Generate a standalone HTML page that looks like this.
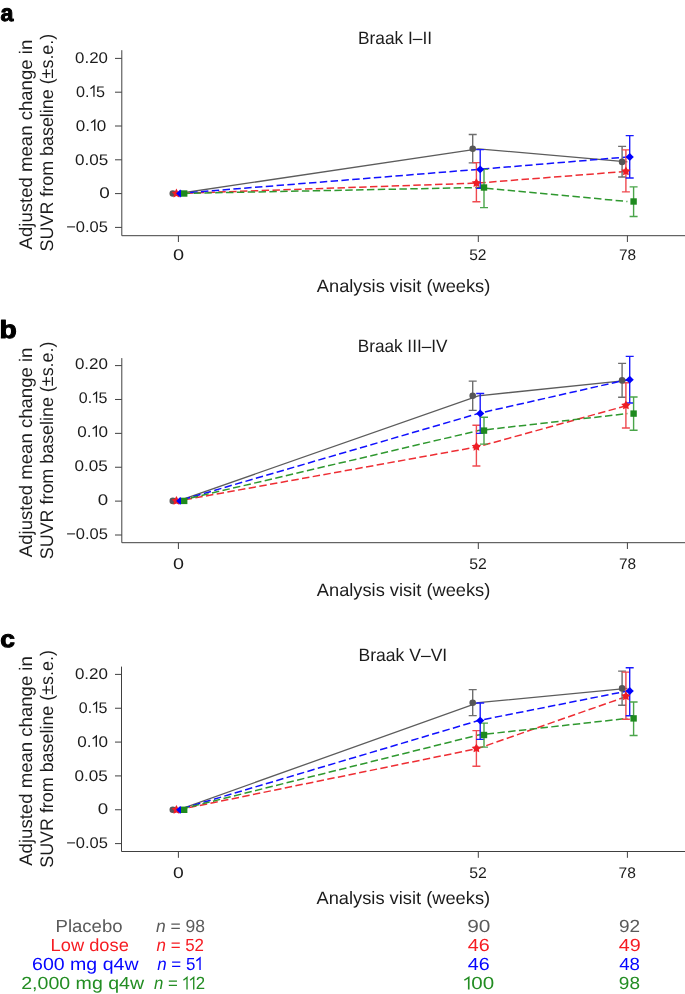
<!DOCTYPE html>
<html><head><meta charset="utf-8"><title>Adjusted mean change in SUVR by Braak region</title>
<style>
html,body{margin:0;padding:0;background:#fff;overflow:hidden;}
svg{display:block;will-change:transform;}
text{font-family:"Liberation Sans", sans-serif;text-rendering:geometricPrecision;}
</style></head><body>
<svg width="685" height="994" viewBox="0 0 685 994">
<rect width="685" height="994" fill="#fff"/>
<text x="0.5" y="20.9" font-size="23.6" font-weight="bold" fill="#000" textLength="12.91" lengthAdjust="spacingAndGlyphs" stroke="#000" stroke-width="1" stroke-linejoin="round">a</text>
<text x="358.01" y="44.3" font-size="17.9" fill="#1c1c1c" textLength="74.14" lengthAdjust="spacingAndGlyphs">Braak I–II</text>
<text transform="translate(31.7,249.3) rotate(-90)" x="-0.09" y="0" font-size="18.2" fill="#1c1c1c" textLength="209.61" lengthAdjust="spacingAndGlyphs">Adjusted mean change in</text>
<text transform="translate(53.3,250.6) rotate(-90)" x="-0.81" y="0" font-size="18.2" fill="#1c1c1c" textLength="217.64" lengthAdjust="spacingAndGlyphs">SUVR from baseline (±s.e.)</text>
<path d="M121.8,50.2 V235.7 H685 M115,58.4 H121.8 M115,92.2 H121.8 M115,126 H121.8 M115,159.8 H121.8 M115,193.6 H121.8 M115,227.4 H121.8 M178.4,235.7 V242 M478.3,235.7 V242 M627.4,235.7 V242" fill="none" stroke="#404040" stroke-width="1.0"/>
<text x="75.12" y="62.85" font-size="15.4" fill="#1c1c1c" textLength="32.87" lengthAdjust="spacingAndGlyphs">0.20</text>
<g transform="matrix(1.0524 0 0 1 75.97 0)" fill="#1c1c1c"><text x="0" y="96.65" font-size="15.4"><tspan x="0.00">0</tspan><tspan x="8.56">.</tspan><tspan x="19.00">5</tspan></text><path d="M13.77,88.64 L17.08,86.10 V96.65" fill="none" stroke="#1c1c1c" stroke-width="1.23" stroke-linejoin="miter"/></g>
<g transform="matrix(1.1075 0 0 1 75.83 0)" fill="#1c1c1c"><text x="0" y="130.65" font-size="15.4"><tspan x="0.00">0</tspan><tspan x="8.56">.</tspan><tspan x="19.00">0</tspan></text><path d="M13.77,122.64 L17.08,120.10 V130.65" fill="none" stroke="#1c1c1c" stroke-width="1.23" stroke-linejoin="miter"/></g>
<text x="75.12" y="164.55" font-size="15.4" fill="#1c1c1c" textLength="33.29" lengthAdjust="spacingAndGlyphs">0.05</text>
<text x="99.24" y="198.15" font-size="15.4" fill="#1c1c1c" textLength="10.54" lengthAdjust="spacingAndGlyphs">0</text>
<text x="66.17" y="232.25" font-size="15.4" fill="#1c1c1c" textLength="41.79" lengthAdjust="spacingAndGlyphs">−0.05</text>
<text x="172.9" y="259.7" font-size="15.4" fill="#1c1c1c" textLength="11.12" lengthAdjust="spacingAndGlyphs">0</text>
<text x="469.18" y="259.7" font-size="15.4" fill="#1c1c1c" textLength="17.34" lengthAdjust="spacingAndGlyphs">52</text>
<text x="618.93" y="259.7" font-size="15.4" fill="#1c1c1c" textLength="17.12" lengthAdjust="spacingAndGlyphs">78</text>
<text x="316.81" y="291.5" font-size="17.9" fill="#1c1c1c" textLength="173.52" lengthAdjust="spacingAndGlyphs">Analysis visit (weeks)</text>
<polyline points="178.4,193.5 478.3,148.8 627.4,161.9" fill="none" stroke="#5c5c5c" stroke-width="1.3"/>
<polyline points="178.4,193.5 478.3,183 627.4,171.3" fill="none" stroke="#ee2d33" stroke-width="1.5" stroke-dasharray="7.45 3.39" stroke-dashoffset="3.42"/>
<polyline points="178.4,193.5 478.3,169.4 627.4,157" fill="none" stroke="#1010ff" stroke-width="1.5" stroke-dasharray="7.45 3.39" stroke-dashoffset="9.89"/>
<polyline points="178.4,193.5 478.3,187.5 627.4,201.5" fill="none" stroke="#2f982f" stroke-width="1.5" stroke-dasharray="7.45 3.39" stroke-dashoffset="6.57"/>
<path d="M472.7,134.5 V162.9 M468.7,134.5 H476.7 M468.7,162.9 H476.7" fill="none" stroke="#6e6e6e" stroke-width="1.4"/>
<path d="M622.1,146.4 V177 M618.1,146.4 H626.1 M618.1,177 H626.1" fill="none" stroke="#6e6e6e" stroke-width="1.4"/>
<path d="M476.4,162.6 V201.8 M472.4,162.6 H480.4 M472.4,201.8 H480.4" fill="none" stroke="#ef4a50" stroke-width="1.4"/>
<path d="M625.9,149.9 V191.9 M621.9,149.9 H629.9 M621.9,191.9 H629.9" fill="none" stroke="#ef4a50" stroke-width="1.4"/>
<path d="M480.2,149.6 V188.4 M476.2,149.6 H484.2 M476.2,188.4 H484.2" fill="none" stroke="#1a1aff" stroke-width="1.4"/>
<path d="M629.7,135.6 V178 M625.7,135.6 H633.7 M625.7,178 H633.7" fill="none" stroke="#1a1aff" stroke-width="1.4"/>
<path d="M484,169.4 V207.6 M480,169.4 H488 M480,207.6 H488" fill="none" stroke="#4aa54a" stroke-width="1.4"/>
<path d="M633.6,186.9 V216.5 M629.6,186.9 H637.6 M629.6,216.5 H637.6" fill="none" stroke="#4aa54a" stroke-width="1.4"/>
<circle cx="172.8" cy="193.5" r="3.3" fill="#575757"/>
<circle cx="472.7" cy="148.8" r="3.3" fill="#575757"/>
<circle cx="622.1" cy="161.9" r="3.3" fill="#575757"/>
<path d="M176.4,188.6 L177.93,191.4 L181.06,191.99 L178.87,194.3 L179.28,197.46 L176.4,196.1 L173.52,197.46 L173.93,194.3 L171.74,191.99 L174.87,191.4 Z" fill="#ee1d25"/>
<path d="M476.4,178.1 L477.93,180.9 L481.06,181.49 L478.87,183.8 L479.28,186.96 L476.4,185.6 L473.52,186.96 L473.93,183.8 L471.74,181.49 L474.87,180.9 Z" fill="#ee1d25"/>
<path d="M625.9,166.4 L627.43,169.2 L630.56,169.79 L628.37,172.1 L628.78,175.26 L625.9,173.9 L623.02,175.26 L623.43,172.1 L621.24,169.79 L624.37,169.2 Z" fill="#ee1d25"/>
<path d="M180.2,189.6 L184.3,193.5 L180.2,197.4 L176.1,193.5 Z" fill="#0000ff"/>
<path d="M480.2,165.5 L484.3,169.4 L480.2,173.3 L476.1,169.4 Z" fill="#0000ff"/>
<path d="M629.7,153.1 L633.8,157 L629.7,160.9 L625.6,157 Z" fill="#0000ff"/>
<rect x="181" y="190.3" width="6.4" height="6.4" fill="#1e8a1e"/>
<rect x="480.8" y="184.3" width="6.4" height="6.4" fill="#1e8a1e"/>
<rect x="630.4" y="198.3" width="6.4" height="6.4" fill="#1e8a1e"/>
<text x="-0.44" y="338.1" font-size="25.0" font-weight="bold" fill="#000" textLength="17.3" lengthAdjust="spacingAndGlyphs" stroke="#000" stroke-width="1" stroke-linejoin="round">b</text>
<text x="357.73" y="352" font-size="17.9" fill="#1c1c1c" textLength="89.75" lengthAdjust="spacingAndGlyphs">Braak III–IV</text>
<text transform="translate(31.7,557.1) rotate(-90)" x="-0.09" y="0" font-size="18.2" fill="#1c1c1c" textLength="209.61" lengthAdjust="spacingAndGlyphs">Adjusted mean change in</text>
<text transform="translate(53.3,558.4) rotate(-90)" x="-0.81" y="0" font-size="18.2" fill="#1c1c1c" textLength="217.64" lengthAdjust="spacingAndGlyphs">SUVR from baseline (±s.e.)</text>
<path d="M121.8,358.1 V542.7 H685 M115,365.6 H121.8 M115,399.48 H121.8 M115,433.36 H121.8 M115,467.24 H121.8 M115,501.12 H121.8 M115,535 H121.8 M178.4,542.7 V549 M478.3,542.7 V549 M627.4,542.7 V549" fill="none" stroke="#404040" stroke-width="1.0"/>
<text x="74.92" y="368.85" font-size="15.4" fill="#1c1c1c" textLength="33.08" lengthAdjust="spacingAndGlyphs">0.20</text>
<g transform="matrix(1.0410 0 0 1 78.77 0)" fill="#1c1c1c"><text x="0" y="402.75" font-size="15.4"><tspan x="0.00">0</tspan><tspan x="8.56">.</tspan><tspan x="19.00">5</tspan></text><path d="M13.77,394.74 L17.08,392.20 V402.75" fill="none" stroke="#1c1c1c" stroke-width="1.23" stroke-linejoin="miter"/></g>
<g transform="matrix(1.1113 0 0 1 77.33 0)" fill="#1c1c1c"><text x="0" y="436.85" font-size="15.4"><tspan x="0.00">0</tspan><tspan x="8.56">.</tspan><tspan x="19.00">0</tspan></text><path d="M13.77,428.84 L17.08,426.30 V436.85" fill="none" stroke="#1c1c1c" stroke-width="1.23" stroke-linejoin="miter"/></g>
<text x="74.41" y="470.75" font-size="15.4" fill="#1c1c1c" textLength="33.4" lengthAdjust="spacingAndGlyphs">0.05</text>
<text x="97.65" y="504.75" font-size="15.4" fill="#1c1c1c" textLength="10.42" lengthAdjust="spacingAndGlyphs">0</text>
<text x="66.17" y="538.65" font-size="15.4" fill="#1c1c1c" textLength="41.79" lengthAdjust="spacingAndGlyphs">−0.05</text>
<text x="172.91" y="569" font-size="15.4" fill="#1c1c1c" textLength="11.01" lengthAdjust="spacingAndGlyphs">0</text>
<text x="469.27" y="569" font-size="15.4" fill="#1c1c1c" textLength="17.56" lengthAdjust="spacingAndGlyphs">52</text>
<text x="618.93" y="569" font-size="15.4" fill="#1c1c1c" textLength="17.12" lengthAdjust="spacingAndGlyphs">78</text>
<text x="316.81" y="596" font-size="17.9" fill="#1c1c1c" textLength="173.52" lengthAdjust="spacingAndGlyphs">Analysis visit (weeks)</text>
<polyline points="178.4,500.9 478.3,395.8 627.4,380.4" fill="none" stroke="#5c5c5c" stroke-width="1.3"/>
<polyline points="178.4,500.9 478.3,446.7 627.4,405.4" fill="none" stroke="#ee2d33" stroke-width="1.5" stroke-dasharray="7.45 3.39" stroke-dashoffset="4.46"/>
<polyline points="178.4,500.9 478.3,413.5 627.4,379.7" fill="none" stroke="#1010ff" stroke-width="1.5" stroke-dasharray="7.45 3.39" stroke-dashoffset="6.04"/>
<polyline points="178.4,500.9 478.3,430.6 627.4,413.6" fill="none" stroke="#2f982f" stroke-width="1.5" stroke-dasharray="7.45 3.39" stroke-dashoffset="8.91"/>
<path d="M472.7,381.1 V410.4 M468.7,381.1 H476.7 M468.7,410.4 H476.7" fill="none" stroke="#6e6e6e" stroke-width="1.4"/>
<path d="M622.1,363.4 V397.3 M618.1,363.4 H626.1 M618.1,397.3 H626.1" fill="none" stroke="#6e6e6e" stroke-width="1.4"/>
<path d="M476.4,425.3 V466 M472.4,425.3 H480.4 M472.4,466 H480.4" fill="none" stroke="#ef4a50" stroke-width="1.4"/>
<path d="M625.9,382.8 V428 M621.9,382.8 H629.9 M621.9,428 H629.9" fill="none" stroke="#ef4a50" stroke-width="1.4"/>
<path d="M480.2,393.5 V433.4 M476.2,393.5 H484.2 M476.2,433.4 H484.2" fill="none" stroke="#1a1aff" stroke-width="1.4"/>
<path d="M629.7,356.4 V403 M625.7,356.4 H633.7 M625.7,403 H633.7" fill="none" stroke="#1a1aff" stroke-width="1.4"/>
<path d="M484,417.3 V444.1 M480,417.3 H488 M480,444.1 H488" fill="none" stroke="#4aa54a" stroke-width="1.4"/>
<path d="M633.6,397 V430.2 M629.6,397 H637.6 M629.6,430.2 H637.6" fill="none" stroke="#4aa54a" stroke-width="1.4"/>
<circle cx="172.8" cy="500.9" r="3.3" fill="#575757"/>
<circle cx="472.7" cy="395.8" r="3.3" fill="#575757"/>
<circle cx="622.1" cy="380.4" r="3.3" fill="#575757"/>
<path d="M176.4,496 L177.93,498.8 L181.06,499.39 L178.87,501.7 L179.28,504.86 L176.4,503.5 L173.52,504.86 L173.93,501.7 L171.74,499.39 L174.87,498.8 Z" fill="#ee1d25"/>
<path d="M476.4,441.8 L477.93,444.6 L481.06,445.19 L478.87,447.5 L479.28,450.66 L476.4,449.3 L473.52,450.66 L473.93,447.5 L471.74,445.19 L474.87,444.6 Z" fill="#ee1d25"/>
<path d="M625.9,400.5 L627.43,403.3 L630.56,403.89 L628.37,406.2 L628.78,409.36 L625.9,408 L623.02,409.36 L623.43,406.2 L621.24,403.89 L624.37,403.3 Z" fill="#ee1d25"/>
<path d="M180.2,497 L184.3,500.9 L180.2,504.8 L176.1,500.9 Z" fill="#0000ff"/>
<path d="M480.2,409.6 L484.3,413.5 L480.2,417.4 L476.1,413.5 Z" fill="#0000ff"/>
<path d="M629.7,375.8 L633.8,379.7 L629.7,383.6 L625.6,379.7 Z" fill="#0000ff"/>
<rect x="181" y="497.7" width="6.4" height="6.4" fill="#1e8a1e"/>
<rect x="480.8" y="427.4" width="6.4" height="6.4" fill="#1e8a1e"/>
<rect x="630.4" y="410.4" width="6.4" height="6.4" fill="#1e8a1e"/>
<text x="0.34" y="646.5" font-size="23.6" font-weight="bold" fill="#000" textLength="14.68" lengthAdjust="spacingAndGlyphs" stroke="#000" stroke-width="1" stroke-linejoin="round">c</text>
<text x="358.5" y="660.7" font-size="17.9" fill="#1c1c1c" textLength="88.74" lengthAdjust="spacingAndGlyphs">Braak V–VI</text>
<text transform="translate(31.7,865.7) rotate(-90)" x="-0.09" y="0" font-size="18.2" fill="#1c1c1c" textLength="209.61" lengthAdjust="spacingAndGlyphs">Adjusted mean change in</text>
<text transform="translate(53.3,867) rotate(-90)" x="-0.81" y="0" font-size="18.2" fill="#1c1c1c" textLength="217.64" lengthAdjust="spacingAndGlyphs">SUVR from baseline (±s.e.)</text>
<path d="M121.5,666.6 V851.5 H685 M115,674.4 H121.5 M115,708.24 H121.5 M115,742.08 H121.5 M115,775.92 H121.5 M115,809.76 H121.5 M115,843.6 H121.5 M178.4,851.5 V857.8 M478.3,851.5 V857.8 M627.4,851.5 V857.8" fill="none" stroke="#404040" stroke-width="1.0"/>
<text x="74.92" y="678.85" font-size="15.4" fill="#1c1c1c" textLength="33.08" lengthAdjust="spacingAndGlyphs">0.20</text>
<g transform="matrix(1.0410 0 0 1 78.77 0)" fill="#1c1c1c"><text x="0" y="712.75" font-size="15.4"><tspan x="0.00">0</tspan><tspan x="8.56">.</tspan><tspan x="19.00">5</tspan></text><path d="M13.77,704.74 L17.08,702.20 V712.75" fill="none" stroke="#1c1c1c" stroke-width="1.23" stroke-linejoin="miter"/></g>
<g transform="matrix(1.1113 0 0 1 77.33 0)" fill="#1c1c1c"><text x="0" y="746.65" font-size="15.4"><tspan x="0.00">0</tspan><tspan x="8.56">.</tspan><tspan x="19.00">0</tspan></text><path d="M13.77,738.64 L17.08,736.10 V746.65" fill="none" stroke="#1c1c1c" stroke-width="1.23" stroke-linejoin="miter"/></g>
<text x="74.41" y="780.65" font-size="15.4" fill="#1c1c1c" textLength="33.4" lengthAdjust="spacingAndGlyphs">0.05</text>
<text x="97.65" y="814.45" font-size="15.4" fill="#1c1c1c" textLength="10.42" lengthAdjust="spacingAndGlyphs">0</text>
<text x="66.17" y="848.15" font-size="15.4" fill="#1c1c1c" textLength="41.79" lengthAdjust="spacingAndGlyphs">−0.05</text>
<text x="172.93" y="877.7" font-size="15.4" fill="#1c1c1c" textLength="10.77" lengthAdjust="spacingAndGlyphs">0</text>
<text x="469.27" y="877.7" font-size="15.4" fill="#1c1c1c" textLength="17.56" lengthAdjust="spacingAndGlyphs">52</text>
<text x="618.52" y="877.7" font-size="15.4" fill="#1c1c1c" textLength="17.34" lengthAdjust="spacingAndGlyphs">78</text>
<text x="316.51" y="903.5" font-size="17.9" fill="#1c1c1c" textLength="173.62" lengthAdjust="spacingAndGlyphs">Analysis visit (weeks)</text>
<polyline points="178.4,809.8 478.3,702.7 627.4,688.4" fill="none" stroke="#5c5c5c" stroke-width="1.3"/>
<polyline points="178.4,809.8 478.3,748.4 627.4,696.2" fill="none" stroke="#ee2d33" stroke-width="1.5" stroke-dasharray="7.45 3.39" stroke-dashoffset="10.65"/>
<polyline points="178.4,809.8 478.3,720.6 627.4,691" fill="none" stroke="#1010ff" stroke-width="1.5" stroke-dasharray="7.45 3.39" stroke-dashoffset="6.31"/>
<polyline points="178.4,809.8 478.3,735 627.4,718.4" fill="none" stroke="#2f982f" stroke-width="1.5" stroke-dasharray="7.45 3.39" stroke-dashoffset="7.76"/>
<path d="M472.7,689.6 V715.6 M468.7,689.6 H476.7 M468.7,715.6 H476.7" fill="none" stroke="#6e6e6e" stroke-width="1.4"/>
<path d="M622.1,671.1 V705.3 M618.1,671.1 H626.1 M618.1,705.3 H626.1" fill="none" stroke="#6e6e6e" stroke-width="1.4"/>
<path d="M476.4,730.6 V766.3 M472.4,730.6 H480.4 M472.4,766.3 H480.4" fill="none" stroke="#ef4a50" stroke-width="1.4"/>
<path d="M625.9,672.1 V719.2 M621.9,672.1 H629.9 M621.9,719.2 H629.9" fill="none" stroke="#ef4a50" stroke-width="1.4"/>
<path d="M480.2,703 V739.4 M476.2,703 H484.2 M476.2,739.4 H484.2" fill="none" stroke="#1a1aff" stroke-width="1.4"/>
<path d="M629.7,667.8 V715.7 M625.7,667.8 H633.7 M625.7,715.7 H633.7" fill="none" stroke="#1a1aff" stroke-width="1.4"/>
<path d="M484,723.1 V747.1 M480,723.1 H488 M480,747.1 H488" fill="none" stroke="#4aa54a" stroke-width="1.4"/>
<path d="M633.6,702 V735.5 M629.6,702 H637.6 M629.6,735.5 H637.6" fill="none" stroke="#4aa54a" stroke-width="1.4"/>
<circle cx="172.8" cy="809.8" r="3.3" fill="#575757"/>
<circle cx="472.7" cy="702.7" r="3.3" fill="#575757"/>
<circle cx="622.1" cy="688.4" r="3.3" fill="#575757"/>
<path d="M176.4,804.9 L177.93,807.7 L181.06,808.29 L178.87,810.6 L179.28,813.76 L176.4,812.4 L173.52,813.76 L173.93,810.6 L171.74,808.29 L174.87,807.7 Z" fill="#ee1d25"/>
<path d="M476.4,743.5 L477.93,746.3 L481.06,746.89 L478.87,749.2 L479.28,752.36 L476.4,751 L473.52,752.36 L473.93,749.2 L471.74,746.89 L474.87,746.3 Z" fill="#ee1d25"/>
<path d="M625.9,691.3 L627.43,694.1 L630.56,694.69 L628.37,697 L628.78,700.16 L625.9,698.8 L623.02,700.16 L623.43,697 L621.24,694.69 L624.37,694.1 Z" fill="#ee1d25"/>
<path d="M180.2,805.9 L184.3,809.8 L180.2,813.7 L176.1,809.8 Z" fill="#0000ff"/>
<path d="M480.2,716.7 L484.3,720.6 L480.2,724.5 L476.1,720.6 Z" fill="#0000ff"/>
<path d="M629.7,687.1 L633.8,691 L629.7,694.9 L625.6,691 Z" fill="#0000ff"/>
<rect x="181" y="806.6" width="6.4" height="6.4" fill="#1e8a1e"/>
<rect x="480.8" y="731.8" width="6.4" height="6.4" fill="#1e8a1e"/>
<rect x="630.4" y="715.2" width="6.4" height="6.4" fill="#1e8a1e"/>
<text x="55.51" y="931.6" font-size="17.6" fill="#5a5a5a" textLength="67.1" lengthAdjust="spacingAndGlyphs">Placebo</text>
<text x="155.94" y="931.6" font-size="17.6" fill="#5a5a5a" textLength="49.12" lengthAdjust="spacingAndGlyphs"><tspan font-style="italic">n</tspan> = 98</text>
<text x="467.26" y="931.6" font-size="17.6" fill="#5a5a5a" textLength="23.22" lengthAdjust="spacingAndGlyphs">90</text>
<text x="619.04" y="931.6" font-size="17.6" fill="#5a5a5a" textLength="21.15" lengthAdjust="spacingAndGlyphs">92</text>
<text x="50.64" y="950.9" font-size="17.6" fill="#f61c22" textLength="78.2" lengthAdjust="spacingAndGlyphs">Low dose</text>
<text x="156.55" y="950.9" font-size="17.6" fill="#f61c22" textLength="47.47" lengthAdjust="spacingAndGlyphs"><tspan font-style="italic">n</tspan> = 52</text>
<text x="467.71" y="950.9" font-size="17.6" fill="#f61c22" textLength="21.93" lengthAdjust="spacingAndGlyphs">46</text>
<text x="618.71" y="950.9" font-size="17.6" fill="#f61c22" textLength="21.93" lengthAdjust="spacingAndGlyphs">49</text>
<text x="32.02" y="970" font-size="17.6" fill="#0505ff" textLength="106.53" lengthAdjust="spacingAndGlyphs">600 mg q4w</text>
<g transform="matrix(0.9618 0 0 1 157.25 0)" fill="#0505ff"><text x="0" y="970" font-size="17.6"><tspan font-style="italic">n</tspan> = <tspan x="29.85">5</tspan></text><path d="M40.69,960.85 L44.48,957.94 V970.00" fill="none" stroke="#0505ff" stroke-width="1.41" stroke-linejoin="miter"/></g>
<text x="467.71" y="970" font-size="17.6" fill="#0505ff" textLength="21.93" lengthAdjust="spacingAndGlyphs">46</text>
<text x="619.23" y="970" font-size="17.6" fill="#0505ff" textLength="20.76" lengthAdjust="spacingAndGlyphs">48</text>
<text x="21.22" y="989.4" font-size="17.6" fill="#238d23" textLength="122.92" lengthAdjust="spacingAndGlyphs">2,000 mg q4w</text>
<g transform="matrix(0.9531 0 0 1 153.95 0)" fill="#238d23"><text x="0" y="989.4" font-size="17.6"><tspan font-style="italic">n</tspan> = <tspan x="43.93">2</tspan></text><path d="M30.90,980.25 L34.69,977.34 V989.40" fill="none" stroke="#238d23" stroke-width="1.41" stroke-linejoin="miter"/><path d="M37.94,980.25 L41.73,977.34 V989.40" fill="none" stroke="#238d23" stroke-width="1.41" stroke-linejoin="miter"/></g>
<g transform="matrix(1.1692 0 0 1 463.08 0)" fill="#238d23"><text x="0" y="989.4" font-size="17.6"><tspan x="7.04">0</tspan><tspan x="16.83">0</tspan></text><path d="M1.06,980.25 L4.84,977.34 V989.40" fill="none" stroke="#238d23" stroke-width="1.41" stroke-linejoin="miter"/></g>
<text x="618.84" y="989.4" font-size="17.6" fill="#238d23" textLength="21.16" lengthAdjust="spacingAndGlyphs">98</text>
</svg>
</body></html>
